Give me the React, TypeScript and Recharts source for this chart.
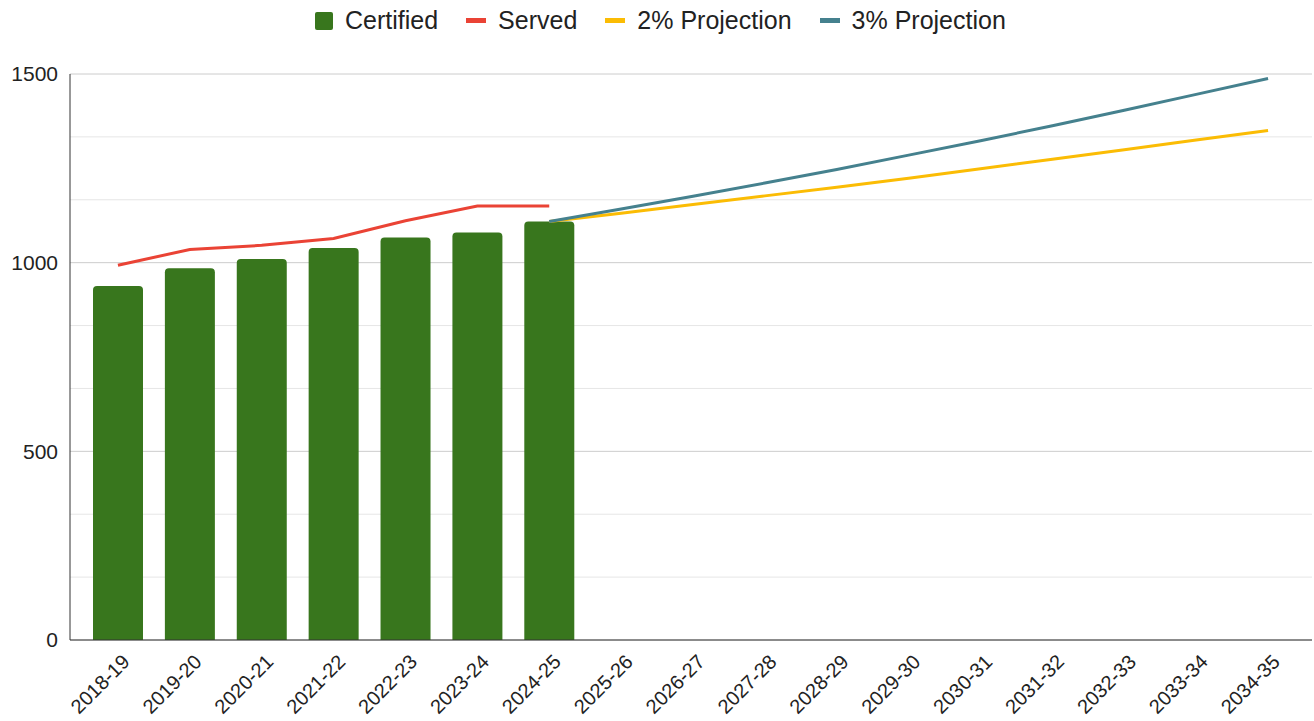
import { ComposedChart, Bar, Line, XAxis, YAxis, CartesianGrid } from "recharts";

const years = [
  "2018-19", "2019-20", "2020-21", "2021-22", "2022-23", "2023-24", "2024-25", "2025-26", "2026-27",
  "2027-28", "2028-29", "2029-30", "2030-31", "2031-32", "2032-33", "2033-34", "2034-35",
];
const certified = [938, 985, 1010, 1039, 1067, 1080, 1109];
const served = [993, 1035, 1046, 1064, 1111, 1150, 1150];
// projections start at the 2024-25 certified value
const projection2 = [1109, 1131, 1154, 1177, 1200, 1224, 1249, 1274, 1299, 1325, 1350];
const projection3 = [1109, 1142, 1176, 1211, 1247, 1285, 1323, 1363, 1404, 1446, 1488];
const projStart = 6;

const yTicks = [0, 500, 1000, 1500];
const minorTicks = [166.67, 333.33, 666.67, 833.33, 1166.67, 1333.33];

const COLORS = {
  certified: "#38761d",
  served: "#ea4335",
  p2: "#fbbc04",
  p3: "#45818e",
};

const legendItems = [
  { name: "Certified", color: COLORS.certified, kind: "square" },
  { name: "Served", color: COLORS.served, kind: "line" },
  { name: "2% Projection", color: COLORS.p2, kind: "line" },
  { name: "3% Projection", color: COLORS.p3, kind: "line" },
];

const FONT = "'Liberation Sans', Arial, sans-serif";

const data = years.map((year, i) => ({
  year,
  certified: certified[i],
  served: served[i],
  p2: i >= projStart ? projection2[i - projStart] : undefined,
  p3: i >= projStart ? projection3[i - projStart] : undefined,
}));

const XTick = ({ x, y, payload }: any) => {
  const tx = x + 13;
  const ty = y + 15;
  return (
    <text
      x={tx}
      y={ty}
      transform={`rotate(-45 ${tx} ${ty})`}
      textAnchor="end"
      fontSize={20}
      fontFamily={FONT}
      fill="#222"
    >
      {payload.value}
    </text>
  );
};

export default function App() {
  return (
    <div style={{ position: "absolute", left: 0, top: 0, width: 1314, height: 721, background: "#fff" }}>
      {/* Legend */}
      <div
        style={{
          position: "absolute",
          left: 315,
          top: 6,
          display: "flex",
          alignItems: "center",
          fontFamily: FONT,
          fontSize: 25,
          color: "#222",
          whiteSpace: "nowrap",
        }}
      >
        {legendItems.map((item) => (
          <div key={item.name} style={{ display: "flex", alignItems: "center", marginRight: 28 }}>
            <div
              style={{
                width: item.kind === "square" ? 18 : 20,
                height: item.kind === "square" ? 18 : 5,
                background: item.color,
                borderRadius: item.kind === "square" ? 2 : 0,
                marginRight: 12,
              }}
            />
            <span>{item.name}</span>
          </div>
        ))}
      </div>

      <ComposedChart
        width={1314}
        height={721}
        data={data}
        margin={{ top: 74, right: 2, bottom: 0, left: 0 }}
      >
        <CartesianGrid vertical={false} stroke="#e6e6e6" horizontalValues={minorTicks} />
        <CartesianGrid vertical={false} stroke="#cccccc" />
        <XAxis
          dataKey="year"
          interval={0}
          height={81}
          padding={{ left: 12, right: 8 }}
          tickLine={false}
          axisLine={{ stroke: "#333" }}
          tick={<XTick />}
        />
        <YAxis
          domain={[0, 1500]}
          ticks={yTicks}
          width={70}
          tickLine={false}
          axisLine={{ stroke: "#333" }}
          tickMargin={6}
          tick={{ fontSize: 21, fontFamily: FONT, fill: "#222" }}
        />
        <Bar dataKey="certified" fill={COLORS.certified} barSize={50} radius={[4, 4, 0, 0]} isAnimationActive={false} />
        <Line dataKey="served" stroke={COLORS.served} strokeWidth={3} dot={false} isAnimationActive={false} />
        <Line dataKey="p2" stroke={COLORS.p2} strokeWidth={3} dot={false} isAnimationActive={false} />
        <Line dataKey="p3" stroke={COLORS.p3} strokeWidth={3} dot={false} isAnimationActive={false} />
      </ComposedChart>
    </div>
  );
}
